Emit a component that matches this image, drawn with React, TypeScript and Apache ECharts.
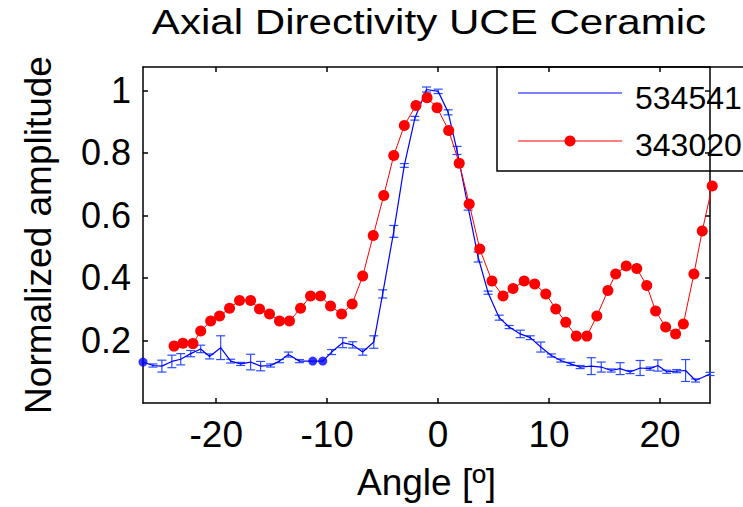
import React, { useEffect, useRef } from "react";
import * as echarts from "echarts";

const redAngles = [-23.8, -23.0, -22.1, -21.4, -20.5, -19.7, -18.8, -17.9, -16.9, -16.1, -15.2, -14.3, -13.4, -12.4, -11.5, -10.6, -9.7, -8.7, -7.75, -6.8, -5.85, -4.9, -4.0, -3.05, -2.0, -1.0, -0.1, 0.95, 1.9, 2.8, 3.75, 4.85, 5.85, 6.75, 7.75, 8.7, 9.7, 10.6, 11.5, 12.45, 13.4, 14.3, 15.3, 16.0, 16.95, 17.9, 18.8, 19.6, 20.5, 21.4, 22.1, 23.05, 23.8, 24.7];
const redValues = [0.182, 0.191, 0.19, 0.23, 0.262, 0.278, 0.303, 0.328, 0.328, 0.301, 0.285, 0.262, 0.262, 0.303, 0.342, 0.342, 0.31, 0.285, 0.317, 0.406, 0.536, 0.664, 0.792, 0.888, 0.952, 0.977, 0.945, 0.872, 0.767, 0.637, 0.493, 0.39, 0.342, 0.366, 0.39, 0.381, 0.349, 0.301, 0.258, 0.214, 0.214, 0.278, 0.36, 0.413, 0.438, 0.43, 0.376, 0.294, 0.243, 0.221, 0.253, 0.413, 0.55, 0.694];

const blueAngles = [-26.6, -25.7, -24.9, -24.0, -23.2, -22.3, -21.4, -20.6, -19.6, -18.7, -17.8, -16.9, -16.0, -15.1, -14.3, -13.5, -12.5, -11.3, -10.4, -9.6, -8.6, -7.7, -6.8, -5.8, -5.0, -4.0, -3.05, -2.1, -1.05, 0.0, 0.9, 1.7, 2.7, 3.6, 4.5, 5.5, 6.4, 7.4, 8.3, 9.25, 10.2, 11.05, 11.95, 12.8, 13.8, 14.7, 15.6, 16.4, 17.3, 18.2, 19.1, 19.8, 20.6, 21.5, 22.3, 23.2, 24.5];
const blueValues = [0.131, 0.12, 0.118, 0.133, 0.14, 0.158, 0.173, 0.149, 0.177, 0.134, 0.125, 0.131, 0.118, 0.12, 0.134, 0.155, 0.134, 0.134, 0.134, 0.163, 0.193, 0.186, 0.163, 0.195, 0.349, 0.549, 0.76, 0.911, 1.003, 0.997, 0.93, 0.808, 0.627, 0.467, 0.353, 0.273, 0.243, 0.221, 0.209, 0.179, 0.152, 0.136, 0.125, 0.115, 0.118, 0.115, 0.104, 0.11, 0.099, 0.112, 0.11, 0.12, 0.1, 0.102, 0.104, 0.072, 0.093];
const blueErrors = [0, 0.005, 0.019, 0.02, 0.018, 0.01, 0.012, 0.008, 0.038, 0.006, 0.005, 0.025, 0.015, 0.005, 0.005, 0.008, 0.005, 0, 0, 0.008, 0.016, 0.01, 0.01, 0.02, 0.013, 0.019, 0.006, 0.006, 0.008, 0.007, 0.008, 0.013, 0.01, 0.016, 0.005, 0.008, 0.005, 0.012, 0.006, 0.016, 0.005, 0.005, 0.005, 0.005, 0.027, 0.016, 0.005, 0.019, 0.005, 0.024, 0.005, 0.018, 0.005, 0.005, 0.035, 0.005, 0.005];
const blueDotAngles = [-26.6, -11.3, -10.4];
const blueDotValues = [0.131, 0.134, 0.134];

const xTicks = [-20, -10, 0, 10, 20];
const yTicks = [0.2, 0.4, 0.6, 0.8, 1];
const seriesNames = ["534541", "343020"];
const titleText = "Axial Directivity UCE Ceramic";

const FONT = "'Liberation Sans', Arial, Helvetica, sans-serif";

export default function App() {
  const ref = useRef<HTMLDivElement>(null);
  useEffect(() => {
    document.body.style.margin = "0";
    const chart = echarts.init(ref.current!, null, { renderer: "svg" });
    const gridLeft = 143, gridRight = 33, gridTop = 67, gridBottom = 104;
    const axisCommon = {
      axisLine: { show: true, onZero: false, lineStyle: { color: "#000", width: 1.5 } },
      splitLine: { show: false },
    };
    const option: any = {
      animation: false,
      backgroundColor: "#fff",
      grid: { left: gridLeft, right: gridRight, top: gridTop, bottom: gridBottom, containLabel: false, outerBoundsMode: "none" },
      xAxis: [
        {
          type: "value", min: -26.6, max: 24.5, position: "bottom",
          ...axisCommon,
          axisTick: { show: true, inside: true, length: 5, customValues: xTicks, lineStyle: { color: "#000", width: 1.5 } },
          axisLabel: { customValues: xTicks, fontFamily: FONT, fontSize: 37, color: "#000", margin: 13 },
          name: "Angle [º]", nameLocation: "middle", nameGap: 61,
          nameTextStyle: { fontFamily: FONT, fontSize: 37, color: "#000" },
        },
        {
          type: "value", min: -26.6, max: 24.5, position: "top",
          ...axisCommon,
          axisTick: { show: true, inside: true, length: 5, customValues: xTicks, lineStyle: { color: "#000", width: 1.5 } },
          axisLabel: { show: false },
        },
      ],
      yAxis: [
        {
          type: "value", min: 0, max: 1.075, position: "left",
          ...axisCommon,
          axisTick: { show: true, inside: true, length: 5, customValues: yTicks, lineStyle: { color: "#000", width: 1.5 } },
          axisLabel: { customValues: yTicks, fontFamily: FONT, fontSize: 36, color: "#000", margin: 12, formatter: (v: number) => String(v) },
          name: "Normalized amplitude", nameLocation: "middle", nameGap: 86, nameRotate: 90,
          nameTextStyle: { fontFamily: FONT, fontSize: 37, color: "#000" },
        },
        {
          type: "value", min: 0, max: 1.075, position: "right",
          ...axisCommon,
          axisTick: { show: true, inside: true, length: 5, customValues: yTicks, lineStyle: { color: "#000", width: 1.5 } },
          axisLabel: { show: false },
        },
      ],
      series: [
        {
          name: seriesNames[0],
          type: "line",
          data: blueAngles.map((a, i) => [a, blueValues[i]]),
          showSymbol: false,
          lineStyle: { color: "#0000ff", width: 1.2 },
          itemStyle: { color: "#0000ff" },
          z: 3,
        },
        {
          type: "custom",
          data: blueAngles.map((a, i) => [a, blueValues[i], blueErrors[i]]),
          encode: { x: 0, y: 1 },
          clip: false,
          z: 3,
          renderItem: (params: any, api: any) => {
            const x = api.value(0), y = api.value(1), e = api.value(2);
            if (!e) return { type: "group", children: [] };
            const t = api.coord([x, y + e]);
            const b = api.coord([x, y - e]);
            const w = 4.5;
            const st = { stroke: "#2a4dff", lineWidth: 1.2 };
            return {
              type: "group",
              children: [
                { type: "line", shape: { x1: t[0], y1: t[1], x2: b[0], y2: b[1] }, style: st },
                { type: "line", shape: { x1: t[0] - w, y1: t[1], x2: t[0] + w, y2: t[1] }, style: st },
                { type: "line", shape: { x1: b[0] - w, y1: b[1], x2: b[0] + w, y2: b[1] }, style: st },
              ],
            };
          },
        },
        {
          type: "scatter",
          data: blueDotAngles.map((a, i) => [a, blueDotValues[i]]),
          symbol: "circle",
          symbolSize: 9,
          itemStyle: { color: "#0000ff" },
          clip: false,
          z: 4,
        },
        {
          name: seriesNames[1],
          type: "line",
          data: redAngles.map((a, i) => [a, redValues[i]]),
          symbol: "circle",
          symbolSize: 11,
          showAllSymbol: true,
          clip: false,
          lineStyle: { color: "#ff0000", width: 1 },
          itemStyle: { color: "#ff0000", borderWidth: 0 },
          z: 5,
        },
      ],
      graphic: [
        {
          type: "text",
          x: 429,
          y: 4,
          scaleX: 1.17,
          originX: 0,
          style: { text: titleText, font: `36px ${FONT}`, fill: "#000", align: "center", verticalAlign: "top" },
        },
        {
          type: "group",
          z: 100,
          children: [
            { type: "rect", shape: { x: 497, y: 67, width: 300, height: 104 }, style: { fill: "#fff", stroke: "#000", lineWidth: 1.5 } },
            { type: "line", shape: { x1: 518, y1: 93, x2: 622, y2: 93 }, style: { stroke: "#0000ff", lineWidth: 1 } },
            { type: "line", shape: { x1: 518, y1: 141, x2: 622, y2: 141 }, style: { stroke: "#ff0000", lineWidth: 1 } },
            { type: "circle", shape: { cx: 570, cy: 141, r: 5.5 }, style: { fill: "#ff0000" } },
            { type: "text", x: 635, y: 98, style: { text: seriesNames[0], font: `32px ${FONT}`, fill: "#000", verticalAlign: "middle", align: "left" } },
            { type: "text", x: 635, y: 145, style: { text: seriesNames[1], font: `32px ${FONT}`, fill: "#000", verticalAlign: "middle", align: "left" } },
          ],
        },
      ],
    };
    chart.setOption(option);
    return () => chart.dispose();
  }, []);
  return <div ref={ref} style={{ width: 743, height: 507 }} />;
}
